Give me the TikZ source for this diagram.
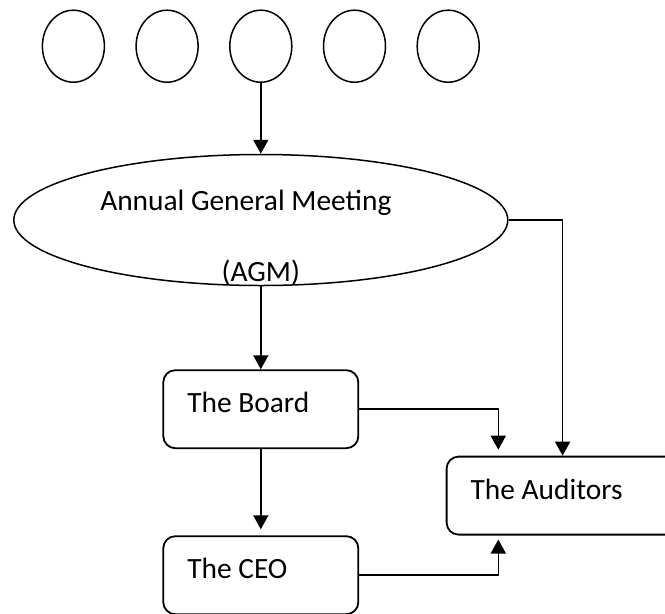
\documentclass[tikz,border=0pt]{standalone}
\usepackage{fontspec}
\setmainfont{Carlito}
\usetikzlibrary{arrows.meta,shapes.geometric}

\begin{document}
\begin{tikzpicture}[x=1pt, y=-1pt, every node/.style={draw, line width=1.5pt, font=\fontsize{29.4}{35}\selectfont, inner sep=0pt}, -{Triangle[width=15pt,length=14pt]}, line width=1.6pt]
	\tikzstyle{member} = [ellipse, minimum width=62pt, minimum height=72pt]
	\tikzstyle{meeting} = [ellipse, minimum width=494pt, minimum height=131pt]
	\tikzstyle{body} = [rectangle, rounded corners=12pt, line width=1.8pt, minimum height=78pt, inner xsep=24pt, align=flush left, text height=20pt, text depth=13pt]
	\tikzstyle{caption} = [draw=none, anchor=base]

	\useasboundingbox (0,0) rectangle (665,614);

	\node[member] (member3) at (260.8,46.2) {};
	\node[member] (member2) [node distance=93.7pt, left of=member3] {};
	\node[member] (member1) [node distance=93.7pt, left of=member2] {};
	\node[member] (member4) [node distance=93.7pt, right of=member3] {};
	\node[member] (member5) [node distance=93.7pt, right of=member4] {};

	\node[meeting] (agm) [node distance=173.8pt, below of=member3] {};
	\node[caption] (agmname) at ([xshift=-15pt, yshift=9.75pt]agm.center) {Annual General Meeting};
	\node[caption] (agmshort) at ([yshift=-61.25pt]agm.center) {(AGM)};

	\node[body, text width=147pt] (board) [node distance=189.2pt, below of=agm] {The Board};
	\node[body, text width=147pt] (ceo) [node distance=166pt, below of=board] {The CEO};
	\node[body, text width=184pt, anchor=west] (auditors) at (445.7,495.6) {The Auditors};

	\draw (member3) -- (agm);
	\draw (agm) -- (board);
	\draw[shorten >=6pt] (board) -- (ceo);
	\draw (agm.east) -| (auditors.north);
	\draw[shorten >=6pt] (board.east) -| ([xshift=52.6pt]auditors.north west);
	\draw[shorten >=4pt] (ceo.east) -| ([xshift=52.6pt]auditors.south west);
\end{tikzpicture}
\end{document}
